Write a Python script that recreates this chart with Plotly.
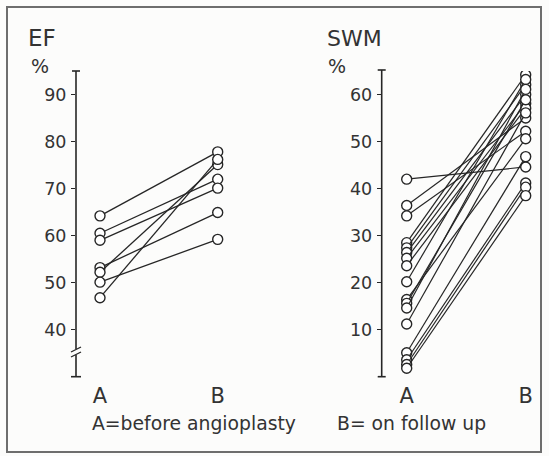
import plotly.graph_objects as go

W, H = 549, 456

# ---- data ----
categories = ["A", "B"]
ef_before = [64.2, 60.5, 59.0, 53.2, 52.2, 50.1, 46.8]
ef_after = [77.8, 72.0, 70.1, 64.9, 75.1, 59.2, 76.2]
ef_ticks = [40, 50, 60, 70, 80, 90]

swm_before = [42.0, 36.4, 34.2, 28.5, 27.4, 26.4, 25.2, 23.6, 20.2, 16.4,
              15.6, 14.6, 11.2, 5.1, 3.6, 2.6, 1.8]
swm_after = [44.6, 55.0, 52.2, 64.2, 62.1, 60.0, 58.1, 57.1, 63.2, 50.6,
             58.9, 61.1, 56.1, 46.8, 41.2, 40.3, 38.5]
swm_ticks = [10, 20, 30, 40, 50, 60]

INK = "#262626"
FONT = "DejaVu Sans"

# ---- layout geometry (pixels) ----
Y_TOP, Y_BOT = 71, 376.7
L_AX, L_A, L_B, L_END = 76, 100, 217.7, 245
R_AX, R_A, R_B, R_END = 381.7, 406.7, 525.7, 545


def xrange_for(ax, a, b, end):
    s = b - a
    return [(ax - a) / s, 1 + (end - b) / s]


def px(x):
    return x / W


def py(y):
    return 1 - y / H


fig = go.Figure()

for b, a in zip(ef_before, ef_after):
    fig.add_trace(go.Scatter(x=[0, 1], y=[b, a], mode="lines+markers",
                             line=dict(color=INK, width=1.3),
                             marker=dict(size=10, color="white",
                                         line=dict(color=INK, width=1.4)),
                             xaxis="x", yaxis="y", showlegend=False,
                             hoverinfo="skip"))
for b, a in zip(swm_before, swm_after):
    fig.add_trace(go.Scatter(x=[0, 1], y=[b, a], mode="lines+markers",
                             line=dict(color=INK, width=1.2),
                             marker=dict(size=10, color="white",
                                         line=dict(color=INK, width=1.4)),
                             xaxis="x2", yaxis="y2", showlegend=False,
                             hoverinfo="skip"))

ydom = [py(Y_BOT), py(Y_TOP)]
common_x = dict(showgrid=False, zeroline=False, showline=False,
                tickvals=[0, 1], ticktext=categories, ticks="",
                tickfont=dict(family=FONT, size=21, color="#333"),
                ticklabelstandoff=4, fixedrange=True)
common_y = dict(showgrid=False, zeroline=False, showline=False,
                ticks="outside", ticklen=4, tickwidth=1.3, tickcolor=INK,
                tickfont=dict(family=FONT, size=17.5, color="#333"),
                ticklabelstandoff=1, fixedrange=True)

fig.update_layout(
    width=W, height=H,
    margin=dict(l=0, r=0, t=0, b=0),
    paper_bgcolor="#fcfcfb", plot_bgcolor="rgba(0,0,0,0)",
    xaxis=dict(domain=[px(L_AX), px(L_END)],
               range=xrange_for(L_AX, L_A, L_B, L_END), anchor="y", **common_x),
    yaxis=dict(domain=ydom, range=[30, 95], tickvals=ef_ticks, anchor="x",
               **common_y),
    xaxis2=dict(domain=[px(R_AX), px(R_END)],
                range=xrange_for(R_AX, R_A, R_B, R_END), anchor="y2", **common_x),
    yaxis2=dict(domain=ydom, range=[0, 65], tickvals=swm_ticks, anchor="x2",
                **common_y),
)

shapes = []
lw = 1.6
# frame
shapes.append(dict(type="rect", xref="paper", yref="paper",
                   x0=px(7), x1=px(541), y0=py(452), y1=py(7),
                   line=dict(color="#6e6e6e", width=2)))
# left axis with break
shapes += [
    dict(type="line", xref="paper", yref="paper", x0=px(L_AX), x1=px(L_AX),
         y0=py(Y_TOP), y1=py(349), line=dict(color=INK, width=lw)),
    dict(type="line", xref="paper", yref="paper", x0=px(L_AX - 4), x1=px(L_AX + 4),
         y0=py(Y_TOP), y1=py(Y_TOP), line=dict(color=INK, width=lw)),
    dict(type="line", xref="paper", yref="paper", x0=px(L_AX - 5), x1=px(L_AX + 5),
         y0=py(352), y1=py(347), line=dict(color=INK, width=1.3)),
    dict(type="line", xref="paper", yref="paper", x0=px(L_AX - 5), x1=px(L_AX + 5),
         y0=py(357), y1=py(352), line=dict(color=INK, width=1.3)),
    dict(type="line", xref="paper", yref="paper", x0=px(L_AX), x1=px(L_AX),
         y0=py(355), y1=py(Y_BOT), line=dict(color=INK, width=lw)),
    dict(type="line", xref="paper", yref="paper", x0=px(L_AX - 5), x1=px(L_AX + 5),
         y0=py(Y_BOT), y1=py(Y_BOT), line=dict(color=INK, width=lw)),
]
# right axis
shapes += [
    dict(type="line", xref="paper", yref="paper", x0=px(R_AX), x1=px(R_AX),
         y0=py(Y_TOP - 1), y1=py(Y_BOT), line=dict(color=INK, width=lw)),
    dict(type="line", xref="paper", yref="paper", x0=px(R_AX - 4), x1=px(R_AX + 4),
         y0=py(Y_TOP - 1), y1=py(Y_TOP - 1), line=dict(color=INK, width=lw)),
    dict(type="line", xref="paper", yref="paper", x0=px(R_AX - 4), x1=px(R_AX + 4),
         y0=py(Y_BOT), y1=py(Y_BOT), line=dict(color=INK, width=lw)),
]
fig.update_layout(shapes=shapes)

ann = []


def label(text, x, y, size, anchor="left"):
    ann.append(dict(text=text, x=px(x), y=py(y), xref="paper", yref="paper",
                    xanchor=anchor, yanchor="middle", showarrow=False,
                    borderpad=0,
                    font=dict(family=FONT, size=size, color="#333")))


label("EF", 27, 38, 23)
label("%", 30, 66, 19)
label("SWM", 326, 38, 22)
label("%", 327, 66, 19)
label("A=before angioplasty", 91, 423, 18.8)
label("B= on follow up", 336, 423, 18.8)
fig.update_layout(annotations=ann)

fig.write_html(
    "out.html",
    config={"displayModeBar": False},
    post_script="document.body.style.margin='0';document.body.style.overflow='hidden';",
)
